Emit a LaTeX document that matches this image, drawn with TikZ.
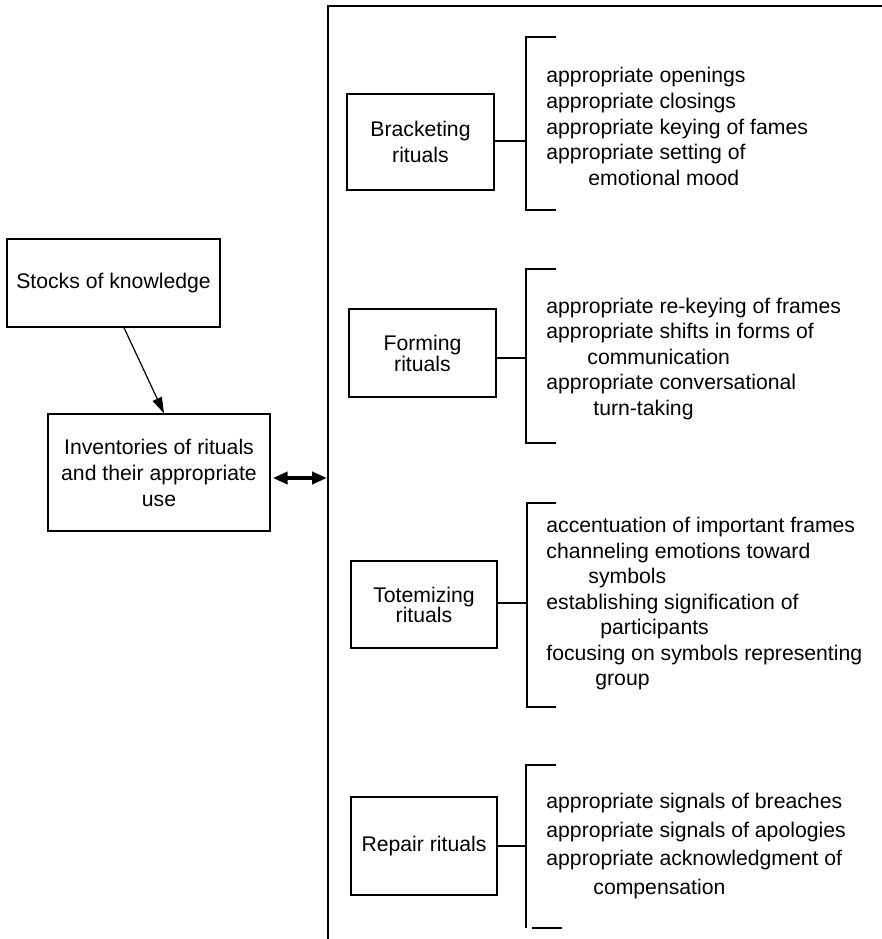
\documentclass[tikz,border=0pt]{standalone}
\usepackage{fontspec}
\setmainfont{Liberation Sans}
\usetikzlibrary{arrows.meta}
\begin{document}
\begin{tikzpicture}[x=0.5pt,y=-0.5pt,
  box/.style={draw, line width=0.7pt, align=center, inner sep=2pt, font=\fontsize{10.6pt}{13pt}\selectfont},
  lst/.style={anchor=west, align=left, inner sep=0pt},
  ln/.style={line width=0.7pt},
  arr/.style={line width=0.6pt, -{Triangle[length=8pt,width=5pt]}},
  dbl/.style={line width=2pt, {Triangle[length=7.5pt,width=6pt]}-{Triangle[length=7.5pt,width=6pt]}}]
\useasboundingbox (0,0) rectangle (882,939);
% frame
\coordinate (ftop) at (328,6);
\coordinate (fright) at (882,6);
\coordinate (fbot) at (328,939);
\draw[ln] (fright) -- (ftop) -- (fbot);
% left boxes
\node[box, minimum width=106.5pt, minimum height=44pt] (sk) at (113.5,283) {Stocks of knowledge};
\node[box, minimum width=111pt, minimum height=58.5pt] (inv) at (159,472.5) {Inventories of rituals\\and their appropriate\\use};
\draw[arr] ([xshift=5.25pt]sk.south) -- ([xshift=2.5pt]inv.north);
\coordinate (vj) at (327,478);
\draw[dbl] ([xshift=1pt]vj -| inv.east) -- (vj);
% ritual boxes
\node[box, minimum width=73.5pt, minimum height=48pt] (br) at (420.5,142) {Bracketing\\rituals};
\node[box, minimum width=73.5pt, minimum height=44pt, font=\fontsize{10.6pt}{10.5pt}\selectfont] (fr) at (422.5,353) {Forming\\rituals};
\node[box, minimum width=73pt, minimum height=43.5pt, font=\fontsize{10.6pt}{10pt}\selectfont] (tr) at (424,604.5) {Totemizing\\rituals};
\node[box, minimum width=73pt, minimum height=49pt] (rr) at (424,846) {Repair rituals};
% brackets
\coordinate (b1c) at (526,141);
\draw[ln] (556,37) -- (526,37) -- (526,210) -- (556,210);
\draw[ln] (br.east |- b1c) -- (b1c);
\coordinate (b2c) at (526,358);
\draw[ln] (556,269) -- (526,269) -- (526,443) -- (556,443);
\draw[ln] (fr.east |- b2c) -- (b2c);
\coordinate (b3c) at (527,603);
\draw[ln] (556,503) -- (527,503) -- (527,707) -- (556,707);
\draw[ln] (tr.east |- b3c) -- (b3c);
\coordinate (b4c) at (526,846);
\draw[ln] (556,765) -- (526,765) -- (526,928);
\draw[ln] (532,928) -- (562,928);
\draw[ln] (rr.east |- b4c) -- (b4c);
% lists
\node[lst, font=\fontsize{10.6pt}{12.875pt}\selectfont] (l1) at (546,126.5) {appropriate openings\\appropriate closings\\appropriate keying of fames\\appropriate setting of\\\hspace*{21pt}emotional mood};
\node[lst, font=\fontsize{10.6pt}{12.75pt}\selectfont] (l2) at (546,359) {appropriate re-keying of frames\\appropriate shifts in forms of\\\hspace*{20.5pt}communication\\appropriate conversational\\\hspace*{23.5pt}turn-taking};
\node[lst, font=\fontsize{10.6pt}{12.75pt}\selectfont] (l3) at (546,604) {accentuation of important frames\\channeling emotions toward\\\hspace*{21pt}symbols\\establishing signification of\\\hspace*{27pt}participants\\focusing on symbols representing\\\hspace*{24.5pt}group};
\node[lst, font=\fontsize{10.6pt}{14.3pt}\selectfont] (l4) at (546,846) {appropriate signals of breaches\\appropriate signals of apologies\\appropriate acknowledgment of\\\hspace*{23.5pt}compensation};
\end{tikzpicture}
\end{document}
